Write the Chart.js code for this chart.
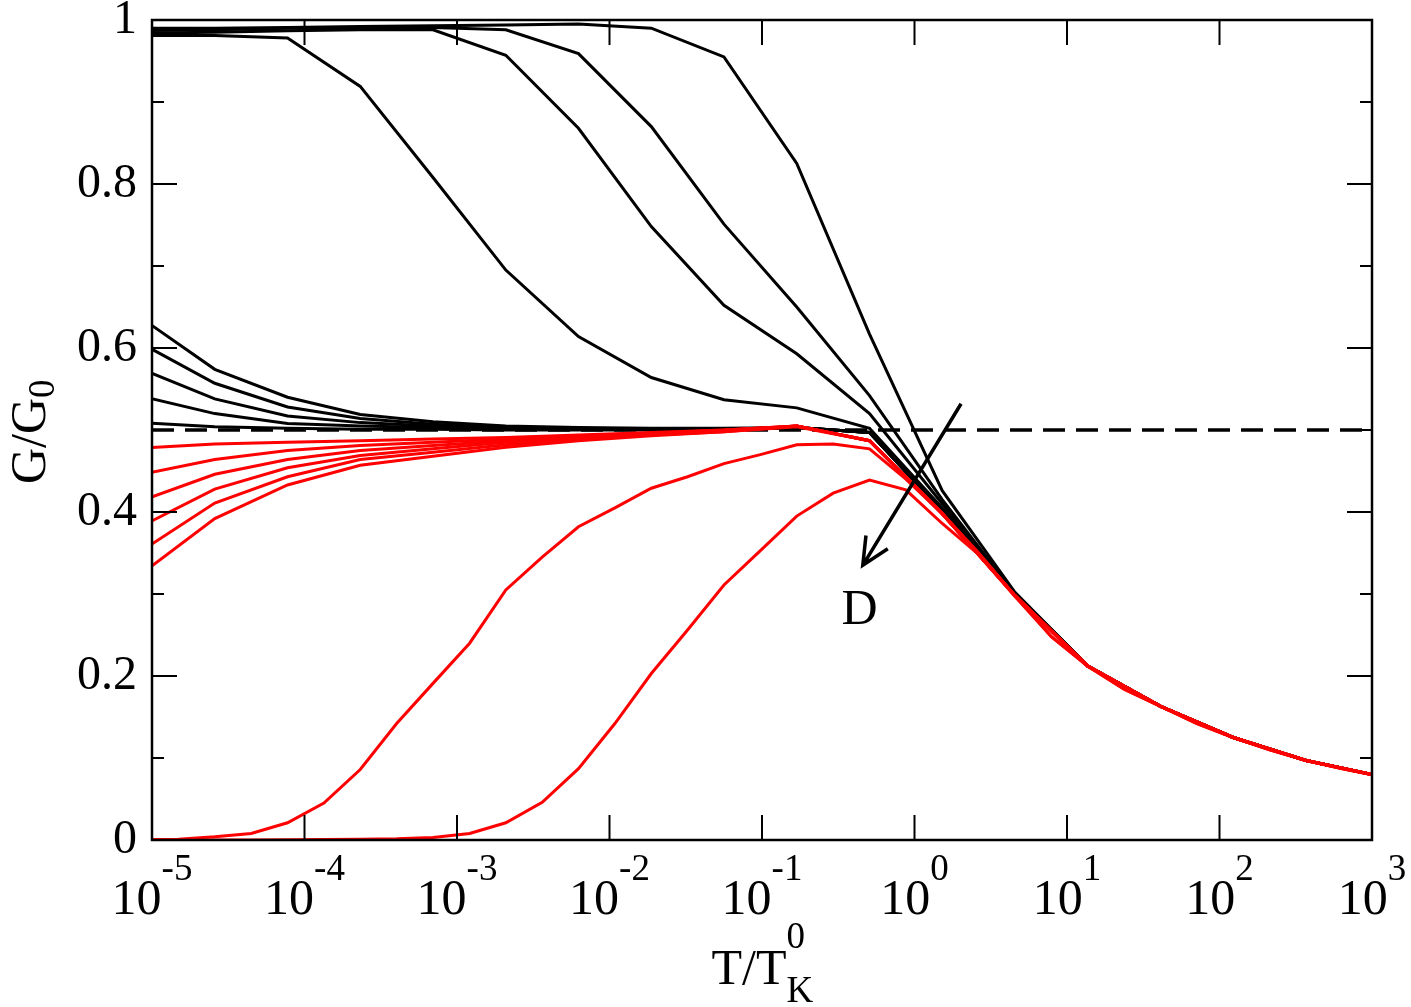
<!DOCTYPE html>
<html>
<head>
<meta charset="utf-8">
<script src="https://cdn.jsdelivr.net/npm/chart.js@4.4.1/dist/chart.umd.min.js"></script>
<style>
  html, body { margin: 0; padding: 0; background: #fff; }
  #wrap { width: 1411px; height: 1007px; }
</style>
</head>
<body>
<div id="wrap"><canvas id="conductance" width="1411" height="1007"></canvas></div>
<script>
// T / T_K^0 sample grids (coarse: factor 3, fine: factor sqrt 3)
const tCoarse = [8.6e-6, 2.58e-5, 7.74e-5, 2.32e-4, 6.96e-4, 2.09e-3, 6.26e-3, 1.88e-2, 5.63e-2, 0.169, 0.507, 1.52, 4.56, 13.7, 41.1, 123, 370, 1109];
const tFine = [8.6e-6, 1.49e-5, 2.58e-5, 4.47e-5, 7.74e-5, 1.34e-4, 2.32e-4, 4.02e-4, 6.96e-4, 1.21e-3, 2.09e-3, 3.62e-3, 6.26e-3, 1.085e-2, 1.88e-2, 3.25e-2, 5.63e-2, 9.76e-2, 0.169, 0.293, 0.507, 0.878, 1.52, 2.64, 4.56, 7.9, 13.7, 23.7, 41.1, 71.2, 123, 213, 370, 640, 1109];

// black curves that start near 1
const blackHigh1 = [0.981, 0.981, 0.978, 0.919, 0.808, 0.695, 0.614, 0.564, 0.537, 0.527, 0.502, 0.405, 0.300, 0.212, 0.163, 0.125, 0.097, 0.078];
const blackHigh2 = [0.984, 0.985, 0.987, 0.988, 0.988, 0.957, 0.868, 0.748, 0.652, 0.593, 0.520, 0.410, 0.300, 0.212, 0.163, 0.125, 0.097, 0.078];
const blackHigh3 = [0.987, 0.988, 0.990, 0.991, 0.991, 0.988, 0.959, 0.870, 0.751, 0.650, 0.542, 0.415, 0.300, 0.212, 0.163, 0.125, 0.097, 0.078];
const blackHigh4 = [0.990, 0.990, 0.991, 0.992, 0.993, 0.994, 0.995, 0.990, 0.955, 0.825, 0.617, 0.426, 0.302, 0.212, 0.163, 0.125, 0.097, 0.078];

// black curves that start a little above 1/2
const blackLow1 = [0.636, 0.574, 0.540, 0.519, 0.510, 0.505, 0.503, 0.502, 0.502, 0.503, 0.497, 0.402, 0.300, 0.212, 0.163, 0.125, 0.097, 0.078];
const blackLow2 = [0.605, 0.557, 0.528, 0.514, 0.507, 0.503, 0.502, 0.501, 0.501, 0.503, 0.497, 0.402, 0.300, 0.212, 0.163, 0.125, 0.097, 0.078];
const blackLow3 = [0.574, 0.538, 0.517, 0.509, 0.505, 0.502, 0.501, 0.501, 0.501, 0.503, 0.497, 0.401, 0.300, 0.212, 0.163, 0.125, 0.097, 0.078];
const blackLow4 = [0.541, 0.520, 0.508, 0.505, 0.503, 0.501, 0.501, 0.501, 0.501, 0.503, 0.497, 0.401, 0.300, 0.212, 0.163, 0.125, 0.097, 0.078];
const blackLow5 = [0.509, 0.504, 0.502, 0.501, 0.501, 0.500, 0.500, 0.500, 0.500, 0.503, 0.497, 0.401, 0.300, 0.212, 0.163, 0.125, 0.097, 0.078];

// red curves that start a little below 1/2
const red1 = [0.478, 0.483, 0.485, 0.487, 0.489, 0.491, 0.494, 0.497, 0.500, 0.505, 0.487, 0.398, 0.298, 0.212, 0.163, 0.125, 0.097, 0.078];
const red2 = [0.446, 0.464, 0.475, 0.481, 0.485, 0.489, 0.493, 0.496, 0.500, 0.505, 0.487, 0.398, 0.298, 0.212, 0.163, 0.125, 0.097, 0.078];
const red3 = [0.414, 0.446, 0.464, 0.475, 0.481, 0.487, 0.492, 0.496, 0.499, 0.505, 0.487, 0.398, 0.298, 0.212, 0.163, 0.125, 0.097, 0.078];
const red4 = [0.383, 0.428, 0.454, 0.469, 0.477, 0.485, 0.491, 0.495, 0.499, 0.505, 0.487, 0.398, 0.298, 0.212, 0.163, 0.125, 0.097, 0.078];
const red5 = [0.353, 0.411, 0.443, 0.464, 0.473, 0.482, 0.489, 0.494, 0.498, 0.505, 0.487, 0.398, 0.298, 0.212, 0.163, 0.125, 0.097, 0.078];
const red6 = [0.325, 0.392, 0.433, 0.457, 0.468, 0.479, 0.487, 0.493, 0.498, 0.504, 0.487, 0.398, 0.298, 0.212, 0.163, 0.125, 0.097, 0.078];

// red curves that go to zero at low T (fine grid)
const red7 = [0.0003, 0.001, 0.004, 0.008, 0.021, 0.045, 0.086, 0.142, 0.191, 0.240, 0.305, 0.345, 0.382, 0.405, 0.429, 0.443, 0.459, 0.470, 0.482, 0.483, 0.477, 0.440, 0.398, 0.350, 0.298, 0.248, 0.212, 0.184, 0.163, 0.142, 0.125, 0.110, 0.097, 0.087, 0.078];
const red8 = [0, 0, 0, 0, 0.0003, 0.0005, 0.001, 0.0015, 0.003, 0.008, 0.021, 0.046, 0.087, 0.142, 0.203, 0.256, 0.311, 0.353, 0.395, 0.423, 0.439, 0.427, 0.386, 0.348, 0.297, 0.248, 0.212, 0.184, 0.163, 0.142, 0.125, 0.110, 0.097, 0.087, 0.078];

// unitary-limit reference line G/G0 = 1/2
const halfT = [1e-5, 1e3];
const halfG = [0.5, 0.5];

const xTickValues = [1e-5, 1e-4, 1e-3, 1e-2, 1e-1, 1, 10, 100, 1000];
const xTickExps = ["-5", "-4", "-3", "-2", "-1", "0", "1", "2", "3"];

// arrow marking increasing D, in data coordinates
const arrowFrom = { x: 2.02, y: 0.532 };
const arrowTo = { x: 0.458, y: 0.335 };
const dLabel = { x: 0.436, y: 0.28, text: "D" };

const serif = '"Liberation Serif", "Times New Roman", serif';

function pts(ts, gs) {
  return gs.map((g, i) => ({ x: ts[i], y: g }));
}

function line(ts, gs, color, extra) {
  return Object.assign({
    data: pts(ts, gs),
    borderColor: color,
    borderWidth: 3,
    pointRadius: 0,
    tension: 0,
    fill: false
  }, extra || {});
}

const redCoarse = [red1, red2, red3, red4, red5, red6];
const blackLow = [blackLow1, blackLow2, blackLow3, blackLow4, blackLow5];
const blackHigh = [blackHigh1, blackHigh2, blackHigh3, blackHigh4];

// first dataset is drawn on top
const datasets = [];
redCoarse.forEach(g => datasets.push(line(tCoarse, g, "#ff0000")));
datasets.push(line(tFine, red7, "#ff0000"));
datasets.push(line(tFine, red8, "#ff0000"));
datasets.push(line(halfT, halfG, "#000000", { borderWidth: 3.5, borderDash: [22, 11] }));
blackLow.forEach(g => datasets.push(line(tCoarse, g, "#000000")));
blackHigh.forEach(g => datasets.push(line(tCoarse, g, "#000000")));

function drawScript(ctx, x, y, parts) {
  // parts: [text, size, baselineShift, keepX]
  let cx = x;
  parts.forEach(p => {
    ctx.font = p[1] + "px " + serif;
    ctx.fillText(p[0], cx, y + p[2]);
    if (!p[3]) cx += ctx.measureText(p[0]).width;
  });
}

const frameAndText = {
  id: "frameAndText",
  afterDraw(chart) {
    const { ctx, chartArea: a, scales: { x, y } } = chart;
    ctx.save();
    ctx.strokeStyle = "#000";
    ctx.fillStyle = "#000";

    ctx.lineWidth = 2;
    ctx.beginPath();
    xTickValues.forEach(v => {
      const px = x.getPixelForValue(v);
      ctx.moveTo(px, a.bottom); ctx.lineTo(px, a.bottom - 25);
      ctx.moveTo(px, a.top); ctx.lineTo(px, a.top + 25);
    });
    for (let k = 0; k <= 10; k++) {
      const py = y.getPixelForValue(k / 10);
      const len = k % 2 === 0 ? 25 : 12;
      ctx.moveTo(a.left, py); ctx.lineTo(a.left + len, py);
      ctx.moveTo(a.right, py); ctx.lineTo(a.right - len, py);
    }
    ctx.stroke();

    ctx.lineWidth = 2.5;
    ctx.strokeRect(a.left, a.top, a.right - a.left, a.bottom - a.top);

    // x tick labels 10^n
    ctx.textAlign = "left";
    ctx.textBaseline = "alphabetic";
    xTickValues.forEach((v, i) => {
      const px = x.getPixelForValue(v);
      ctx.font = "50px " + serif;
      const wb = ctx.measureText("10").width;
      ctx.font = "37px " + serif;
      const we = ctx.measureText(xTickExps[i]).width;
      const left = px - (wb + we) / 2;
      drawScript(ctx, left, a.bottom + 74, [["10", 50, 0], [xTickExps[i], 37, -34]]);
    });

    // x title T/T^0_K
    ctx.font = "50px " + serif;
    const wt = ctx.measureText("T/T").width;
    const tx = (a.left + a.right) / 2 - (wt + 26) / 2;
    drawScript(ctx, tx, a.bottom + 144, [["T/T", 50, 0], ["0", 37, -36, true], ["K", 37, 18]]);

    // y title G/G_0
    ctx.save();
    ctx.translate(45, (a.top + a.bottom) / 2 + 2);
    ctx.rotate(-Math.PI / 2);
    ctx.font = "50px " + serif;
    const wg = ctx.measureText("G/G").width;
    drawScript(ctx, -(wg + 18) / 2, 0, [["G/G", 50, 0], ["0", 37, 9]]);
    ctx.restore();

    // arrow and label
    const x0 = x.getPixelForValue(arrowFrom.x), y0 = y.getPixelForValue(arrowFrom.y);
    const x1 = x.getPixelForValue(arrowTo.x), y1 = y.getPixelForValue(arrowTo.y);
    const ang = Math.atan2(y0 - y1, x0 - x1);
    ctx.lineWidth = 3.5;
    ctx.beginPath();
    ctx.moveTo(x0, y0); ctx.lineTo(x1, y1);
    ctx.moveTo(x1 + 30 * Math.cos(ang + 0.44), y1 + 30 * Math.sin(ang + 0.44));
    ctx.lineTo(x1, y1);
    ctx.lineTo(x1 + 30 * Math.cos(ang - 0.44), y1 + 30 * Math.sin(ang - 0.44));
    ctx.stroke();

    ctx.font = "50px " + serif;
    ctx.textAlign = "center";
    ctx.textBaseline = "middle";
    ctx.fillText(dLabel.text, x.getPixelForValue(dLabel.x), y.getPixelForValue(dLabel.y));
    ctx.restore();
  }
};

new Chart("conductance", {
  type: "line",
  data: { datasets: datasets },
  options: {
    responsive: false,
    animation: false,
    events: [],
    layout: { padding: { top: 20, right: 39, left: 0, bottom: 0 } },
    plugins: { legend: { display: false }, tooltip: { enabled: false } },
    scales: {
      x: {
        type: "logarithmic",
        min: 1e-5,
        max: 1e3,
        afterBuildTicks: s => { s.ticks = xTickValues.map(v => ({ value: v })); },
        ticks: { display: false },
        grid: { display: false, drawTicks: false },
        border: { display: false },
        afterFit: s => { s.height = 167; s.paddingLeft = 0; s.paddingRight = 0; }
      },
      y: {
        min: 0,
        max: 1,
        ticks: {
          stepSize: 0.2,
          color: "#000",
          padding: 15,
          font: { family: serif, size: 48 },
          callback: v => String(Math.round(v * 10) / 10)
        },
        grid: { display: false, drawTicks: false },
        border: { display: false },
        afterFit: s => { s.width = 152; s.paddingTop = 0; s.paddingBottom = 0; }
      }
    }
  },
  plugins: [frameAndText]
});
</script>
</body>
</html>
